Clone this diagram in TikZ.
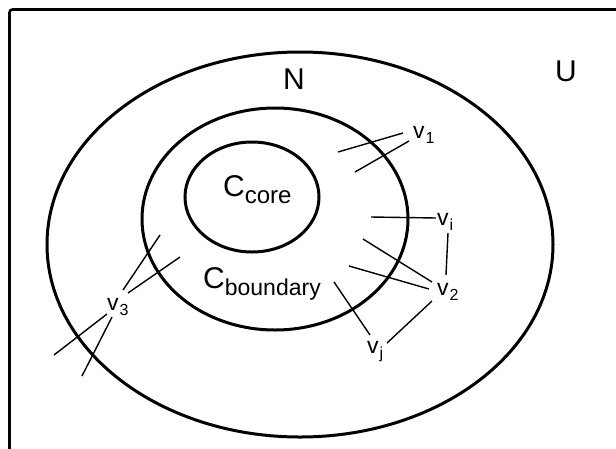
\documentclass[tikz,border=0pt]{standalone}
\usepackage{fontspec}
\setmainfont{Liberation Sans}
\newcommand\vlab[1]{{\fontsize{23}{23}\selectfont v}\kern1pt\raisebox{-5pt}{\fontsize{16}{16}\selectfont #1}}
\begin{document}
\begin{tikzpicture}[x=1pt,y=-1pt,
  ring/.style={line width=3pt},
  edge/.style={line width=1.4pt},
  frame/.style={line width=2.6pt,rounded corners=3pt},
  big/.style={inner sep=0pt,anchor=base west,font=\fontsize{30}{30}\selectfont},
  vl/.style={inner sep=0pt,anchor=base west}]
\useasboundingbox (0,0) rectangle (616,448);
\draw[frame] (9.5,470) -- (9.5,9.5) -- (640,9.5);
% sets
\draw[ring] (300,244.5) ellipse [x radius=253pt, y radius=192.5pt];
\draw[ring] (275,219) ellipse [x radius=133pt, y radius=111pt];
\draw[ring] (252,197) ellipse [x radius=67pt, y radius=55pt];
% labels
\node[big] (N) at (283,89) {N};
\node[big] (U) at (555,81) {U};
\node[vl] (Ccore) at (223,196) {\fontsize{30}{30}\selectfont C\raisebox{-7pt}{\fontsize{24}{24}\selectfont core}};
\node[vl] (Cbnd) at (203,288) {\fontsize{30}{30}\selectfont C\raisebox{-7pt}{\fontsize{23}{23}\selectfont boundary}};
\node[vl] (v1) at (413,138) {\vlab{1}};
\node[vl] (vi) at (437,225) {\vlab{i}};
\node[vl] (v2) at (437,295) {\vlab{2}};
\node[vl] (vj) at (367,353) {\vlab{j}};
\node[vl] (v3) at (107,310) {\vlab{3}};
% connector end points
\coordinate (a1) at (338,152); \coordinate (a1e) at (403,133);
\coordinate (a2) at (355,172); \coordinate (a2e) at (409,141);
\coordinate (b1) at (371,217); \coordinate (b1e) at (436,218);
\coordinate (c1) at (448,233); \coordinate (c1e) at (446,275);
\coordinate (d1) at (363,239); \coordinate (d1e) at (432,282);
\coordinate (d2) at (349,266); \coordinate (d2e) at (429,289);
\coordinate (d3) at (432,301); \coordinate (d3e) at (387,343);
\coordinate (e1) at (334,282); \coordinate (e1e) at (370,335);
\coordinate (f1) at (160,235); \coordinate (f1e) at (123,290);
\coordinate (f2) at (180,257); \coordinate (f2e) at (128,293);
\coordinate (f3) at (54,355);  \coordinate (f3e) at (107,314);
\coordinate (f4) at (82,376);  \coordinate (f4e) at (112,317);
\foreach \s/\t in {a1/a1e,a2/a2e,b1/b1e,c1/c1e,d1/d1e,d2/d2e,d3/d3e,e1/e1e,f1/f1e,f2/f2e,f3/f3e,f4/f4e}
  \draw[edge] (\s) -- (\t);
\end{tikzpicture}
\end{document}
